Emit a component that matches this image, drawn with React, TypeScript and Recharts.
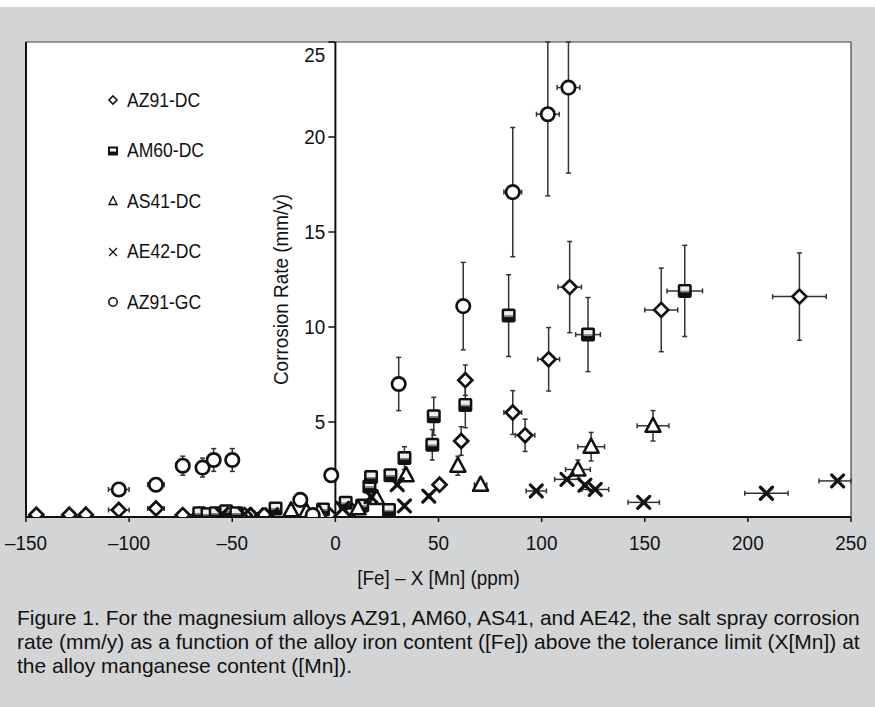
import React from 'react';
import {
  ScatterChart, Scatter, XAxis, YAxis, ErrorBar, ReferenceLine, ReferenceDot,
  ReferenceArea, CartesianGrid, Legend,
} from 'recharts';

// [x, y, xErr, yErr]
type Pt = [number, number, number, number];

const AZ91_DC: Pt[] = [
  [-145, 0.12, 0, 0], [-129, 0.12, 0, 0], [-121, 0.12, 0, 0], [-105, 0.37, 5, 0], [-87, 0.45, 4, 0],
  [-74, 0.1, 0, 0], [-66, 0.12, 0, 0], [-44, 0.1, 0, 0], [-3, 0.12, 0, 0], [8, 0.35, 0, 0],
  [50.5, 1.7, 0, 0], [61, 4.0, 0, 0.75], [63, 7.2, 0, 0.8], [86, 5.5, 4.3, 1.15], [92, 4.3, 4.7, 0.85],
  [103.4, 8.3, 5.3, 1.67], [113.6, 12.1, 5.7, 2.4], [158, 10.9, 8, 2.2], [225, 11.6, 13, 2.3],
];
const AM60_DC: Pt[] = [
  [-66, 0.2, 0, 0], [-62, 0.15, 0, 0], [-58, 0.2, 0, 0], [-53, 0.3, 0, 0], [-48, 0.2, 0, 0],
  [-29, 0.45, 0, 0], [-6, 0.4, 0, 0], [5, 0.75, 0, 0], [13, 0.6, 0, 0], [16.5, 1.6, 0, 0],
  [17.3, 2.1, 0, 0], [26.7, 2.2, 0, 0], [26, 0.37, 0, 0], [33.5, 3.1, 0, 0.6], [47, 3.8, 0, 0.8],
  [47.7, 5.3, 0, 1.0], [63, 5.9, 0, 1.2], [84, 10.6, 2, 2.15], [122.5, 9.6, 6, 1.95], [169.4, 11.9, 8.6, 2.4],
];
const AS41_DC: Pt[] = [
  [-21.5, 0.35, 0, 0], [-14, 0.3, 0, 0], [-8, 0.25, 0, 0], [11, 0.46, 0, 0], [20, 1.0, 0, 0],
  [34.3, 2.2, 0, 0], [59.4, 2.7, 0, 0.5], [70.4, 1.7, 3, 0], [117.6, 2.5, 6, 0.5], [124, 3.7, 6.5, 0.75],
  [154, 4.8, 7.7, 0.8],
];
const AE42_DC: Pt[] = [
  [-55, 0.15, 0, 0], [-44, 0.15, 0, 0], [-38, 0.12, 0, 0], [-31, 0.12, 0, 0], [3.5, 0.46, 0, 0],
  [17.3, 1.07, 0, 0], [30, 1.7, 0, 0], [33.5, 0.58, 0, 0], [45.3, 1.1, 0, 0], [97.4, 1.37, 4.9, 0],
  [112.3, 1.98, 6, 0], [121, 1.68, 0, 0], [126, 1.45, 6.5, 0], [149.5, 0.77, 7.6, 0], [209, 1.25, 10.5, 0],
  [243.5, 1.9, 9, 0],
];
const AZ91_GC: Pt[] = [
  [-105, 1.45, 5, 0.2], [-87, 1.7, 4, 0.15], [-74, 2.7, 3, 0.5], [-64.4, 2.6, 3, 0.5], [-59, 3.0, 3, 0.6],
  [-50, 3.0, 0, 0.6], [-17, 0.9, 0, 0], [-11, 0.1, 0, 0], [-2, 2.2, 0, 0.3], [30.7, 7.0, 0, 1.4],
  [62, 11.1, 0, 2.3], [86, 17.1, 4.3, 3.4], [103, 21.2, 5.5, 4.3], [113, 22.6, 5.5, 4.5],
];

const SERIES_NAMES = ['AZ91-DC', 'AM60-DC', 'AS41-DC', 'AE42-DC', 'AZ91-GC'];
const X_DOMAIN: [number, number] = [-150, 250];
const Y_DOMAIN: [number, number] = [0, 25];
const X_TICKS = [-150, -100, -50, 0, 50, 100, 150, 200, 250];
const Y_TICKS = [5, 10, 15, 20, 25];
const X_LABEL = '[Fe] \u2013 X [Mn] (ppm)';
const Y_LABEL = 'Corrosion Rate (mm/y)';
const CAPTION = [
  'Figure 1. For the magnesium alloys AZ91, AM60, AS41, and AE42, the salt spray corrosion',
  'rate (mm/y) as a function of the alloy iron content ([Fe]) above the tolerance limit (X[Mn]) at',
  'the alloy manganese content ([Mn]).',
];

const SANS = "'Liberation Sans', Arial, sans-serif";
const INK = '#111';
const BG = '#d3d4d6';
const FS = 21;      // chart text size
const SX = 0.9;     // horizontal condensation of chart text

// error bars are cut at the frame of the plot, as in the original figure
const toRows = (pts: Pt[]) =>
  pts.map(([x, y, ex, ey]) => ({
    x, y,
    ex: [Math.min(ex, x - X_DOMAIN[0]), Math.min(ex, X_DOMAIN[1] - x)],
    ey: [Math.min(ey, y - Y_DOMAIN[0]), Math.min(ey, Y_DOMAIN[1] - y)],
  }));

// ---------- marker shapes ----------
const DiamondShape = (p: any) => {
  const { cx, cy } = p; const s = 7;
  return <polygon points={`${cx},${cy - s} ${cx + s},${cy} ${cx},${cy + s} ${cx - s},${cy}`} fill="#fff" stroke={INK} strokeWidth={2.7} />;
};
const SquareShape = (p: any) => {
  const { cx, cy } = p;
  return (
    <g>
      <rect x={cx - 7} y={cy - 7} width={14} height={14} rx={2} fill={INK} />
      <rect x={cx - 4.5} y={cy - 4.5} width={9} height={4.5} fill="#eee" />
      <rect x={cx - 4.5} y={cy} width={9} height={1.5} fill="#888" />
    </g>
  );
};
const TriangleShape = (p: any) => {
  const { cx, cy } = p;
  return <polygon points={`${cx},${cy - 8} ${cx + 7.5},${cy + 6} ${cx - 7.5},${cy + 6}`} fill="#fff" stroke={INK} strokeWidth={2.5} strokeLinejoin="round" />;
};
const CrossShape = (p: any) => {
  const { cx, cy } = p; const s = 6;
  return (
    <g stroke={INK} strokeWidth={3.2} strokeLinecap="round">
      <line x1={cx - s} y1={cy - s} x2={cx + s} y2={cy + s} />
      <line x1={cx - s} y1={cy + s} x2={cx + s} y2={cy - s} />
    </g>
  );
};
const CircleShape = (p: any) => {
  const { cx, cy } = p;
  return <circle cx={cx} cy={cy} r={6.7} fill="#fff" stroke={INK} strokeWidth={2.7} />;
};

const SHAPES = [DiamondShape, SquareShape, TriangleShape, CrossShape, CircleShape];
const DATA = [AZ91_DC, AM60_DC, AS41_DC, AE42_DC, AZ91_GC];

// ---------- legend ----------
const legendIcon = (i: number) => {
  switch (i) {
    case 0: return <polygon points="8,4 12,8 8,12 4,8" fill="#fff" stroke={INK} strokeWidth={1.6} />;
    case 1: return <g><rect x={3} y={3.5} width={10} height={9} fill={INK} /><rect x={5} y={5.5} width={6} height={3} fill="#fff" /></g>;
    case 2: return <polygon points="8,3.5 12,11.5 4,11.5" fill="#fff" stroke={INK} strokeWidth={1.4} />;
    case 3: return <g stroke={INK} strokeWidth={1.3}><line x1={4} y1={4} x2={12} y2={12} /><line x1={4} y1={12} x2={12} y2={4} /></g>;
    default: return <circle cx={8} cy={8} r={4.2} fill="#fff" stroke={INK} strokeWidth={1.5} />;
  }
};

const renderLegend = () => (
  <div style={{ fontFamily: SANS, fontSize: 19.5, color: INK }}>
    {SERIES_NAMES.map((n, i) => (
      <div key={n} style={{ display: 'flex', alignItems: 'center', height: 50.5 }}>
        <svg width={16} height={16} style={{ marginRight: 6 }}>{legendIcon(i)}</svg>
        <span style={{ display: 'inline-block', transform: `scaleX(${SX})`, transformOrigin: 'left center' }}>{n}</span>
      </div>
    ))}
  </div>
);

// ---------- axis pieces ----------
const fmtX = (v: number) => (v < 0 ? `\u2013${Math.abs(v)}` : `${v}`);

const XTick = (props: any) => {
  const { x, y, payload } = props;
  return (
    <text transform={`translate(${x}, ${y}) scale(${SX}, 1)`} textAnchor="middle" dy="0.71em" fontSize={FS} fontFamily={SANS} fill={INK}>
      {fmtX(payload.value)}
    </text>
  );
};

const xAxisLabel = (p: any) => {
  const vb = p.viewBox || {};
  const x = vb.x + vb.width / 2;
  const y = vb.y + vb.height - 5;
  return (
    <text transform={`translate(${x}, ${y}) scale(${SX}, 1)`} textAnchor="middle" fontSize={FS} fontFamily={SANS} fill={INK}>{X_LABEL}</text>
  );
};

const yTickShape = (v: number) => (props: any) => {
  const { cx, cy } = props;
  const dy = v === Y_DOMAIN[1] ? 13 : 0;
  return (
    <g>
      <line x1={cx - 7} y1={cy} x2={cx} y2={cy} stroke={INK} strokeWidth={1.5} />
      <text transform={`translate(${cx - 10}, ${cy + dy}) scale(${SX}, 1)`} textAnchor="end" dominantBaseline="central" fontSize={FS} fontFamily={SANS} fill={INK}>{v}</text>
    </g>
  );
};

const yAxisLabel = (p: any) => {
  const vb = p.viewBox || {};
  const x = vb.x - 55;
  const y = vb.y + vb.height / 2 + 10;
  return (
    <text transform={`translate(${x}, ${y}) rotate(-90) scale(${SX}, 1)`} textAnchor="middle" dominantBaseline="central" fontSize={FS} fontFamily={SANS} fill={INK}>{Y_LABEL}</text>
  );
};

export default function App() {
  return (
    <div style={{ position: 'absolute', left: 0, top: 7, width: 875, height: 700, background: BG }}>
      <ScatterChart width={875} height={700} margin={{ top: 35, left: 26, right: 24, bottom: 117 }}>
        <CartesianGrid fill="#fff" horizontal={false} vertical={false} />
        <ReferenceArea x1={X_DOMAIN[0]} x2={X_DOMAIN[1]} y1={Y_DOMAIN[0]} y2={Y_DOMAIN[1]} fill="none" stroke="#444" strokeWidth={1.2} />
        <ReferenceLine x={X_DOMAIN[0]} stroke={INK} strokeWidth={2} />
        <XAxis
          type="number" dataKey="x" domain={X_DOMAIN} ticks={X_TICKS} allowDataOverflow
          height={73} tickSize={5} tickMargin={13}
          axisLine={{ stroke: INK, strokeWidth: 2 }} tickLine={{ stroke: INK, strokeWidth: 1.5 }}
          tick={<XTick />}
          label={xAxisLabel}
        />
        <YAxis type="number" dataKey="y" domain={Y_DOMAIN} allowDataOverflow hide />
        <ReferenceLine x={0} stroke={INK} strokeWidth={2} label={yAxisLabel} />
        {Y_TICKS.map((v) => (
          <ReferenceDot key={v} x={0} y={v} r={0} shape={yTickShape(v)} />
        ))}
        <Legend
          layout="vertical" align="center" verticalAlign="middle" content={renderLegend}
          wrapperStyle={{ left: 105, top: 68, width: 160, height: 260 }}
        />
        {DATA.map((d, i) => (
          <Scatter key={SERIES_NAMES[i]} name={SERIES_NAMES[i]} data={toRows(d)} shape={SHAPES[i]} isAnimationActive={false}>
            <ErrorBar dataKey="ex" direction="x" width={2.5} stroke="#333" strokeWidth={1.5} />
            <ErrorBar dataKey="ey" direction="y" width={2.5} stroke="#333" strokeWidth={1.5} />
          </Scatter>
        ))}
      </ScatterChart>
      <div style={{ position: 'absolute', left: 17, top: 599, fontFamily: SANS, fontSize: 21, lineHeight: '24px', color: INK, whiteSpace: 'nowrap' }}>
        {CAPTION.map((l) => <div key={l}>{l}</div>)}
      </div>
    </div>
  );
}
